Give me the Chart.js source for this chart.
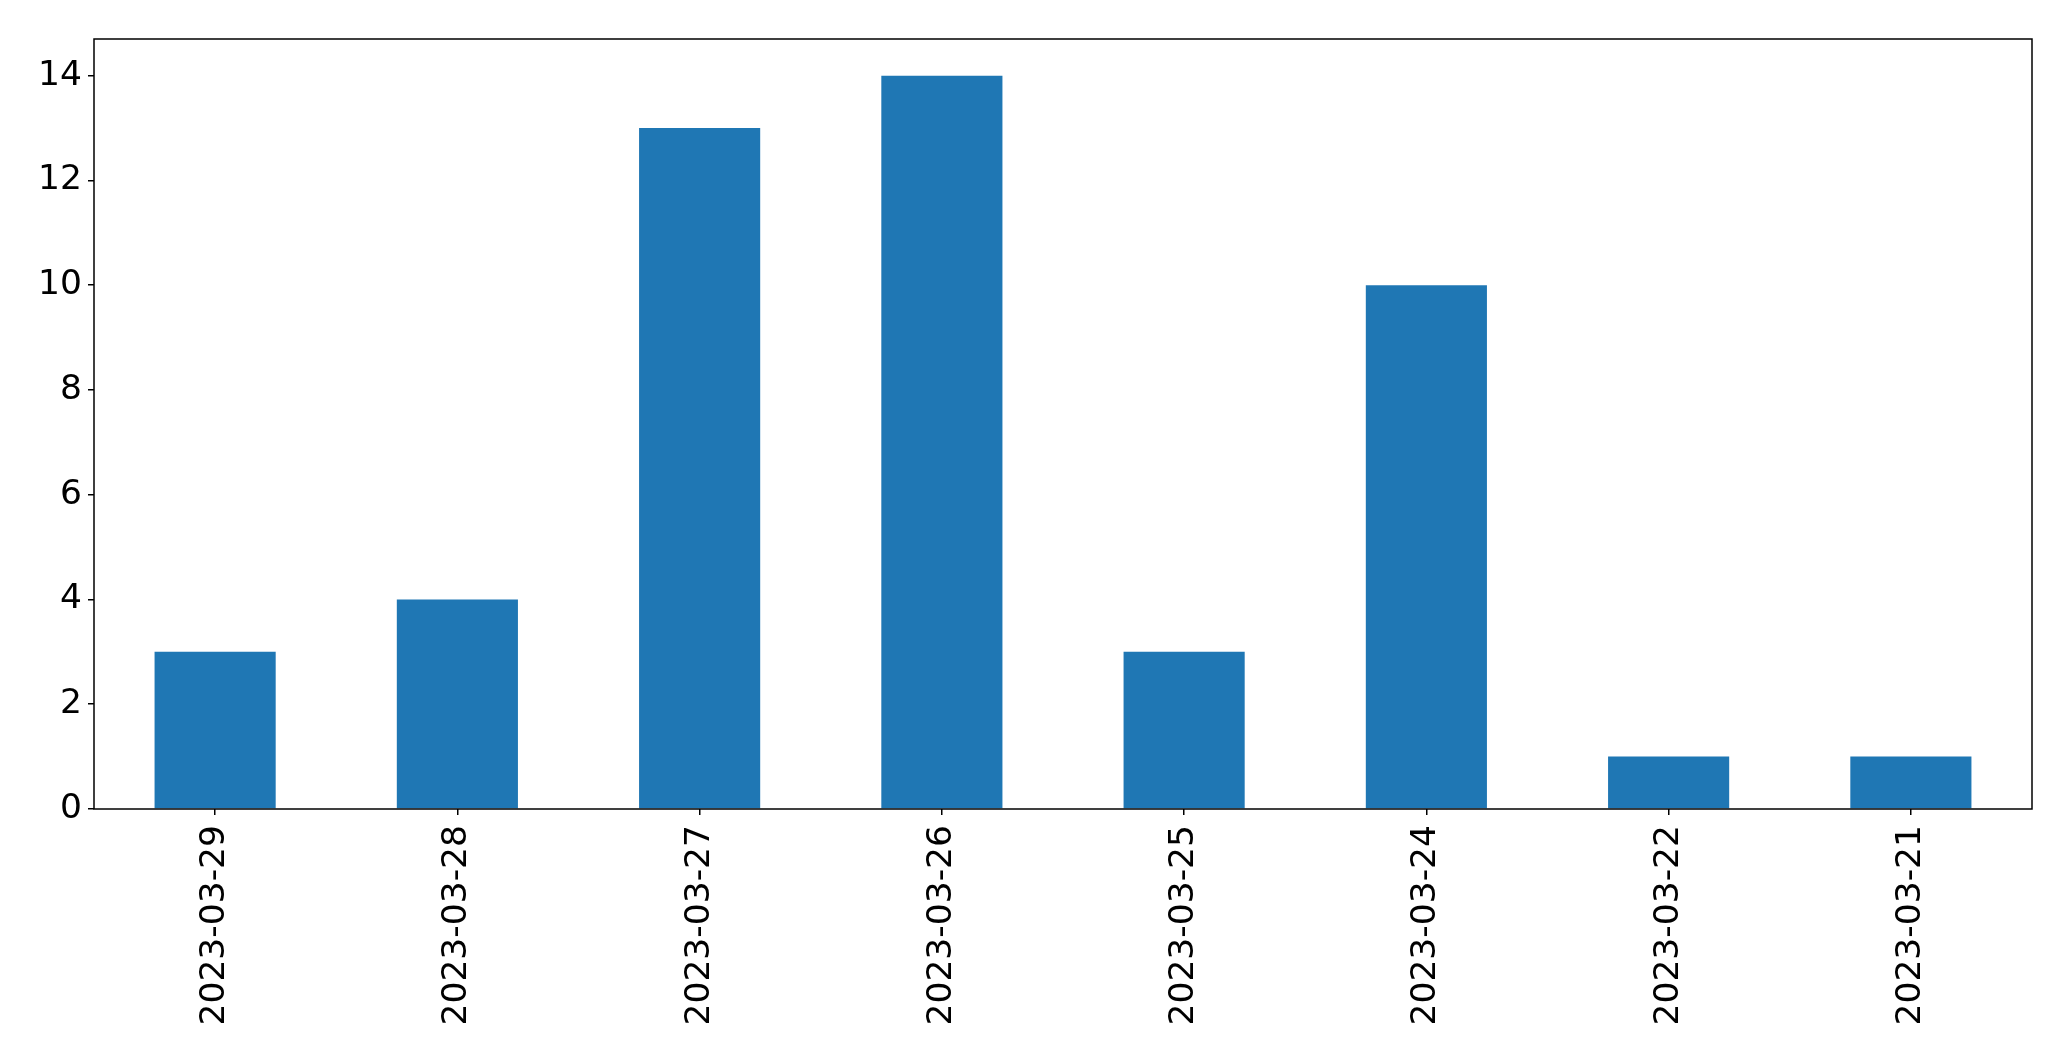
<!DOCTYPE html>
<html>
<head>
<meta charset="utf-8">
<script src="https://cdn.jsdelivr.net/npm/chart.js@4/dist/chart.umd.min.js"></script>
<style>
  html, body { margin: 0; padding: 0; background: #fff; }
  canvas { display: block; }
</style>
</head>
<body>
<canvas id="dateChart" width="2071" height="1061"></canvas>
<script>
// 日付ごとの件数
const dates = ['2023-03-29', '2023-03-28', '2023-03-27', '2023-03-26', '2023-03-25', '2023-03-24', '2023-03-22', '2023-03-21'];
const counts = [3, 4, 13, 14, 3, 10, 1, 1];
const yTicks = [0, 2, 4, 6, 8, 10, 12, 14];

const barColor = '#1f77b4';
const tickFont = { family: 'DejaVu Sans', size: 34.5 };

// 枠線（matplotlib風の四辺）
const frame = {
  id: 'frame',
  afterDraw(chart) {
    const { ctx, chartArea: a } = chart;
    ctx.save();
    ctx.strokeStyle = '#000';
    ctx.lineWidth = 1.5;
    ctx.strokeRect(a.left, a.top, a.right - a.left, a.bottom - a.top);
    ctx.restore();
  }
};

const ctx = document.getElementById('dateChart').getContext('2d');
new Chart(ctx, {
  type: 'bar',
  data: {
    labels: dates,
    datasets: [{
      data: counts,
      backgroundColor: barColor,
      borderWidth: 0,
      categoryPercentage: 1,
      barPercentage: 0.5
    }]
  },
  options: {
    responsive: false,
    animation: false,
    layout: { padding: { top: 39, right: 39, left: 0, bottom: 0 } },
    plugins: { legend: { display: false }, tooltip: { enabled: false } },
    scales: {
      x: {
        grid: { offset: false, drawOnChartArea: false, drawTicks: true, tickLength: 6, color: '#000', lineWidth: 1.5 },
        border: { display: false },
        ticks: { color: '#000', font: tickFont, minRotation: 90, maxRotation: 90, padding: 10 },
        afterFit: (s) => { s.height = 252; }
      },
      y: {
        min: 0,
        max: 14.7,
        grid: { drawOnChartArea: false, drawTicks: true, tickLength: 6, color: '#000', lineWidth: 1.5 },
        border: { display: false },
        afterBuildTicks: (s) => { s.ticks = yTicks.map(v => ({ value: v })); },
        ticks: { color: '#000', font: tickFont, padding: 6 },
        afterFit: (s) => { s.width = 94; }
      }
    }
  },
  plugins: [frame]
});
</script>
</body>
</html>
